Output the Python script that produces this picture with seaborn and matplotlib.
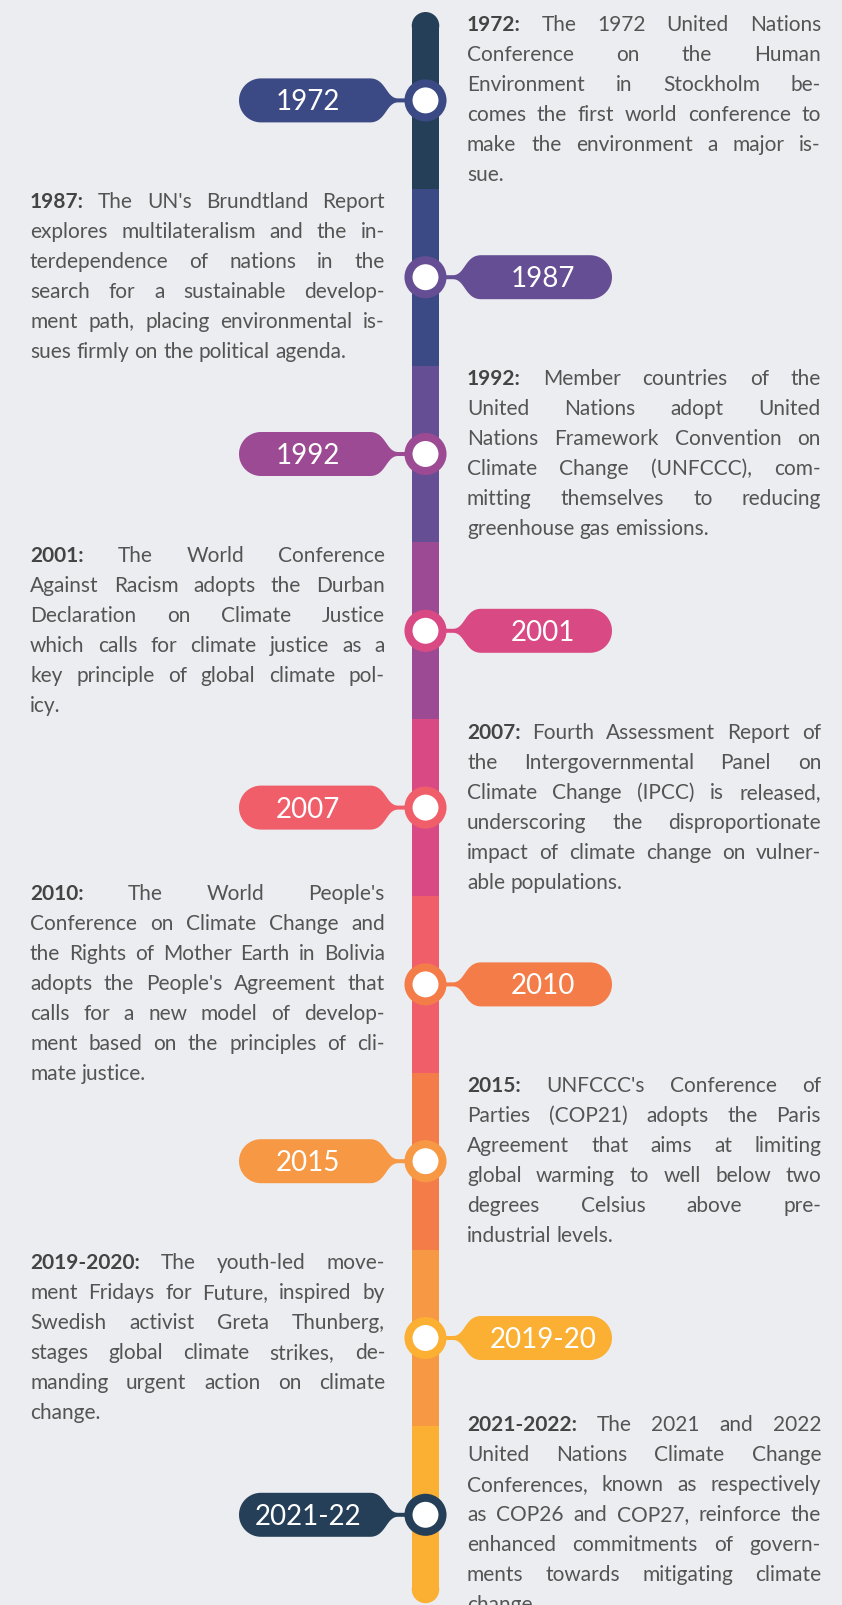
import matplotlib
matplotlib.use("Agg")
import matplotlib.pyplot as plt
import numpy as np
import pandas as pd
import seaborn as sns
from matplotlib.patches import Rectangle, Circle, Polygon

# ---- data ----
badge_labels = ["1972", "1987", "1992", "2001", "2007", "2010", "2015", "2019-20", "2021-22"]
prefixes = ["1972:", "1987:", "1992:", "2001:", "2007:", "2010:", "2015:", "2019-2020:", "2021-2022:"]
badge_sides = ["left", "right", "left", "right", "left", "right", "left", "right", "left"]

segment_colors = ["#263f58", "#3b4a84", "#654e93", "#9b4a93", "#d94a84",
                  "#f05e6a", "#f47c48", "#f79844", "#fbb034"]
badge_colors = ["#3b4a84", "#654e93", "#9b4a93", "#d94a84", "#f05e6a",
                "#f47c48", "#f79844", "#fbb034", "#263f58"]

texts = [
    ["The 1972 United Nations",
     "Conference on the Human",
     "Environment in Stockholm be-",
     "comes the first world conference to",
     "make the environment a major is-",
     "sue."],
    ["The UN's Brundtland Report",
     "explores multilateralism and the in-",
     "terdependence of nations in the",
     "search for a sustainable develop-",
     "ment path, placing environmental is-",
     "sues firmly on the political agenda."],
    ["Member countries of the",
     "United Nations adopt United",
     "Nations Framework Convention on",
     "Climate Change (UNFCCC), com-",
     "mitting themselves to reducing",
     "greenhouse gas emissions."],
    ["The World Conference",
     "Against Racism adopts the Durban",
     "Declaration on Climate Justice",
     "which calls for climate justice as a",
     "key principle of global climate pol-",
     "icy."],
    ["Fourth Assessment Report of",
     "the Intergovernmental Panel on",
     "Climate Change (IPCC) is released,",
     "underscoring the disproportionate",
     "impact of climate change on vulner-",
     "able populations."],
    ["The World People's",
     "Conference on Climate Change and",
     "the Rights of Mother Earth in Bolivia",
     "adopts the People's Agreement that",
     "calls for a new model of develop-",
     "ment based on the principles of cli-",
     "mate justice."],
    ["UNFCCC's Conference of",
     "Parties (COP21) adopts the Paris",
     "Agreement that aims at limiting",
     "global warming to well below two",
     "degrees Celsius above pre-",
     "industrial levels."],
    ["The youth-led move-",
     "ment Fridays for Future, inspired by",
     "Swedish activist Greta Thunberg,",
     "stages global climate strikes, de-",
     "manding urgent action on climate",
     "change."],
    ["The 2021 and 2022",
     "United Nations Climate Change",
     "Conferences, known as respectively",
     "as COP26 and COP27, reinforce the",
     "enhanced commitments of govern-",
     "ments towards mitigating climate",
     "change."],
]

# ---- layout ----
W, H = 842, 1606
BG = "#ecedf0"
CX = 425.5          # timeline centre
BAR_W = 27.5
TOP, SEG_H = 13, 176.8
FS = 15
LINE_H = 30
TEXT_COLOR = "#545454"
BOLD_COLOR = "#444444"

sns.set_theme(style="white", rc={"figure.facecolor": BG, "axes.facecolor": BG})
plt.rcParams['font.family'] = ['Lato', 'DejaVu Sans']

fig = plt.figure(figsize=(W / 100, H / 100), dpi=100)
ax = fig.add_axes([0, 0, 1, 1])
ax.set_xlim(0, W)
ax.set_ylim(H, 0)
ax.axis("off")

n = len(badge_labels)
centers = TOP + (np.arange(n) + 0.5) * SEG_H

# timeline segments
r = BAR_W / 2
for k, col in enumerate(segment_colors):
    y0 = TOP + k * SEG_H
    y1 = y0 + SEG_H
    if k == 0:
        ax.add_patch(Circle((CX, y0 + r), r, color=col, lw=0, zorder=1))
        y0 += r
    if k == n - 1:
        ax.add_patch(Circle((CX, y1 - r), r, color=col, lw=0, zorder=1))
        y1 -= r
    ax.add_patch(Rectangle((CX - r, y0), BAR_W, y1 - y0 + 0.5, color=col, lw=0, zorder=1))


def badge_shape(cy):
    # pill on the left with a funnel neck running to the timeline
    x0, x1, x2, x3 = 239, 370, 398, 415
    hh, neck = 22, 2
    t = np.linspace(0, 1, 30)
    # top curve
    bx = (1 - t) ** 3 * x1 + 3 * (1 - t) ** 2 * t * (x1 + 16) + 3 * (1 - t) * t ** 2 * (x2 - 12) + t ** 3 * x2
    by = (1 - t) ** 3 * (cy - hh) + 3 * (1 - t) ** 2 * t * (cy - hh) + 3 * (1 - t) * t ** 2 * (cy - neck) + t ** 3 * (cy - neck)
    pts = list(zip(bx, by))
    pts += [(x3, cy - neck), (x3, cy + neck)]
    pts += list(zip(bx[::-1], 2 * cy - by[::-1]))
    a = np.linspace(np.pi / 2, 3 * np.pi / 2, 40)
    pts += list(zip(x0 + hh + hh * np.cos(a), cy + hh * np.sin(a)))
    return np.array(pts)


for k in range(n):
    cy = centers[k]
    pts = badge_shape(cy)
    tx = (239 + 377) / 2
    if badge_sides[k] == "right":
        pts[:, 0] = 2 * CX - pts[:, 0]
        tx = 2 * CX - tx
    ax.add_patch(Polygon(pts, closed=True, color=badge_colors[k], lw=0, zorder=2))
    ax.text(tx, cy + 1, badge_labels[k], color="white", fontsize=20,
            ha="center", va="center", zorder=4)

# circles on the timeline
dots = pd.DataFrame({"x": [CX] * n, "y": centers, "c": badge_colors})
sns.scatterplot(data=dots, x="x", y="y", ax=ax, s=600, color="white",
                edgecolor=dots["c"], linewidth=5.8, zorder=3, legend=False)

# justified text blocks
fig.canvas.draw()
renderer = fig.canvas.get_renderer()


def width(s, weight="normal"):
    t = ax.text(0, 0, s, fontsize=FS, fontweight=weight)
    w = t.get_window_extent(renderer).width
    t.remove()
    return w


space_w = width("a a") - width("aa")

for k in range(n):
    lines = texts[k]
    if badge_sides[k] == "left":
        left, right = 467, 821
    else:
        left, right = 30, 385
    box_w = right - left
    first = centers[k] - (len(lines) - 1) * LINE_H / 2 - 2
    for i, line in enumerate(lines):
        words = line.split(" ")
        weights = ["normal"] * len(words)
        if i == 0:
            words = [prefixes[k]] + words
            weights = ["bold"] + weights
        ws = [width(w, wt) for w, wt in zip(words, weights)]
        last = i == len(lines) - 1
        if last or len(words) == 1:
            gap = space_w
        else:
            gap = (box_w - sum(ws)) / (len(words) - 1)
        x = left
        yb = first + i * LINE_H + 7
        for w, wt, ww in zip(words, weights, ws):
            ax.text(x, yb, w, fontsize=FS, fontweight=wt, ha="left", va="baseline",
                    color=BOLD_COLOR if wt == "bold" else TEXT_COLOR, zorder=4)
            x += ww + gap

fig.savefig("out.png", dpi=100, facecolor=BG)
